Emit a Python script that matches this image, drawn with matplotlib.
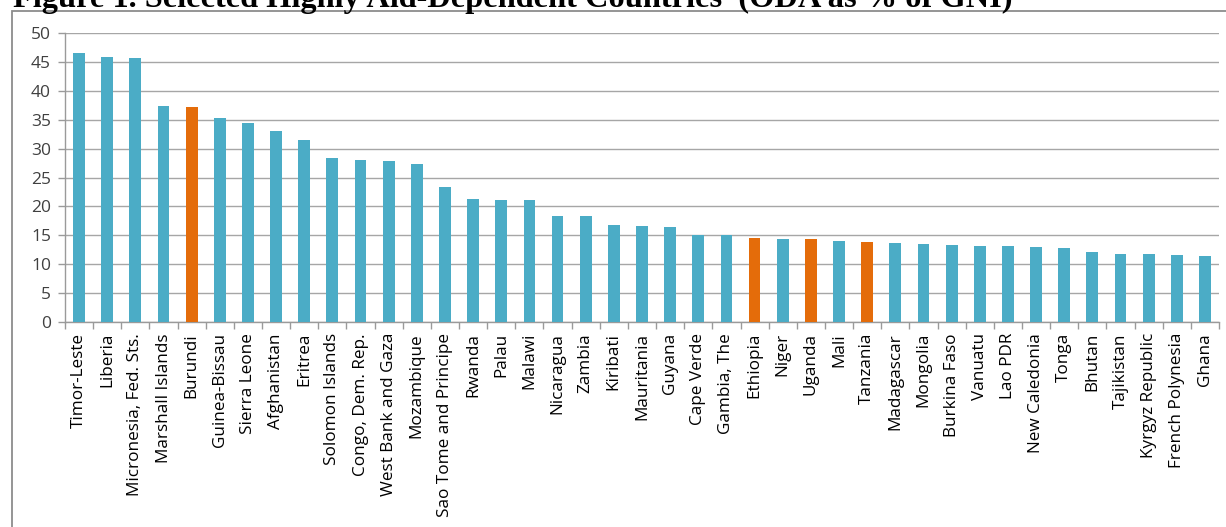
import matplotlib
matplotlib.use("Agg")
import matplotlib.pyplot as plt
from matplotlib.patches import Rectangle
from matplotlib.ticker import FixedLocator, MultipleLocator

countries = ["Timor-Leste", "Liberia", "Micronesia, Fed. Sts.", "Marshall Islands", "Burundi",
             "Guinea-Bissau", "Sierra Leone", "Afghanistan", "Eritrea", "Solomon Islands",
             "Congo, Dem. Rep.", "West Bank and Gaza", "Mozambique", "Sao Tome and Principe",
             "Rwanda", "Palau", "Malawi", "Nicaragua", "Zambia", "Kiribati", "Mauritania",
             "Guyana", "Cape Verde", "Gambia, The", "Ethiopia", "Niger", "Uganda", "Mali",
             "Tanzania", "Madagascar", "Mongolia", "Burkina Faso", "Vanuatu", "Lao PDR",
             "New Caledonia", "Tonga", "Bhutan", "Tajikistan", "Kyrgyz Republic",
             "French Polynesia", "Ghana"]
oda_pct_gni = [46.5, 45.8, 45.6, 37.3, 37.2, 35.3, 34.5, 33.1, 31.5, 28.4,
               28.1, 27.9, 27.4, 23.3, 21.3, 21.1, 21.1, 18.4, 18.3, 16.8, 16.6,
               16.5, 15.0, 15.0, 14.6, 14.4, 14.4, 14.1, 13.9, 13.6, 13.5, 13.4,
               13.2, 13.1, 12.9, 12.8, 12.1, 11.8, 11.8, 11.6, 11.5]
highlighted = ["Burundi", "Ethiopia", "Uganda", "Tanzania"]
title = "Figure 1. Selected Highly Aid-Dependent Countries  (ODA as % of GNI)"

BLUE = "#4BACC6"
ORANGE = "#E46C0A"
GRID = "#A6A6A6"
TXT = "#404040"

W, H = 1226, 527
fig = plt.figure(figsize=(W / 100, H / 100), dpi=100)
fig.patch.set_facecolor("white")

# outer frame
fig.patches.append(Rectangle((12 / W, -0.2), 1.5, (H - 11) / H + 0.2, transform=fig.transFigure,
                             fill=False, edgecolor="#8C8C8C", lw=1.3, zorder=0))

ax = fig.add_axes([65 / W, (H - 322) / H, (1219 - 65) / W, (322 - 33) / H])
x = list(range(len(countries)))
colors = [ORANGE if c in highlighted else BLUE for c in countries]
ax.bar(x, oda_pct_gni, width=0.42, color=colors, zorder=3)

ax.set_xlim(-0.5, len(countries) - 0.5)
ax.set_ylim(0, 50)
ax.yaxis.set_major_locator(MultipleLocator(5))
ax.grid(axis="y", color=GRID, lw=1.0, zorder=0)
ax.set_axisbelow(True)

for s in ["top", "right"]:
    ax.spines[s].set_visible(False)
for s in ["left", "bottom"]:
    ax.spines[s].set_color("#9A9A9A")
    ax.spines[s].set_linewidth(1.0)

font = "Open Sans"
ax.set_xticks(x)
ax.set_xticklabels(countries, rotation=90, fontsize=12.3, family=font, color="black")
ax.xaxis.set_minor_locator(FixedLocator([i - 0.5 for i in range(len(countries) + 1)]))
ax.tick_params(axis="x", which="major", length=0, pad=8)
ax.tick_params(axis="x", which="minor", length=5, color="#9A9A9A", width=1)
ax.tick_params(axis="y", length=5, color="#9A9A9A", width=1, pad=5, labelsize=12.5,
               labelcolor=TXT)
for lab in ax.get_yticklabels():
    lab.set_family(font)

# title (partially cut off at the top, as in the reference)
t = fig.text(13 / W, (H - 7) / H, title, family="Liberation Serif", weight="bold",
             fontsize=20, va="baseline", ha="left", color="black")
fig.canvas.draw()
bb = t.get_window_extent()
t.set_fontsize(20 * 997 / bb.width)

fig.savefig("out.png", dpi=100)
